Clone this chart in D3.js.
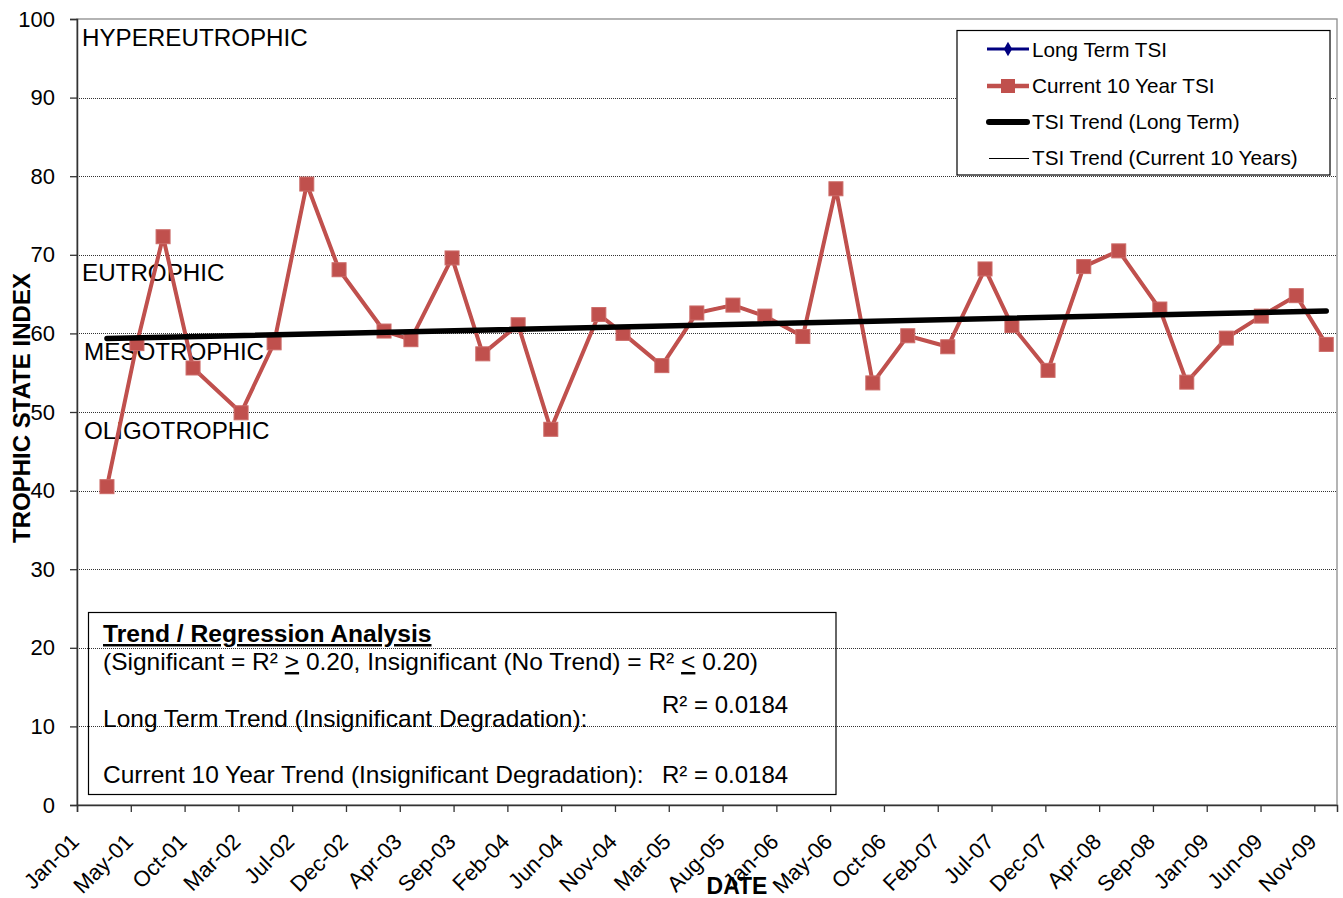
<!DOCTYPE html>
<html><head><meta charset="utf-8">
<script src="https://cdn.jsdelivr.net/npm/d3@7"></script>
<style>
body{margin:0;background:#fff;}
svg{display:block;font-family:Arial,"Liberation Sans",sans-serif;}
</style>
</head><body>
<svg id="chart" width="1343" height="898"></svg>
<script>
// ---------------- data ----------------
const sampleDates = ["2001-03-28","2001-06-14","2001-08-21","2001-11-07","2002-03-12","2002-06-06",
  "2002-08-30","2002-11-22","2003-03-19","2003-05-28","2003-09-12","2003-12-01","2004-03-02",
  "2004-05-26","2004-09-28","2004-11-30","2005-03-11","2005-06-10","2005-09-12","2005-12-04",
  "2006-03-13","2006-06-07","2006-09-11","2006-12-11","2007-03-25","2007-06-30","2007-09-08",
  "2007-12-11","2008-03-13","2008-06-12","2008-09-27","2008-12-06","2009-03-19","2009-06-18",
  "2009-09-17","2009-12-04"];
const longTermTSI = [40.5,58.7,72.3,55.6,49.9,58.8,79.0,68.1,60.3,59.2,69.6,57.4,61.1,47.8,62.4,60.0,
  55.9,62.6,63.6,62.2,59.6,78.4,53.7,59.7,58.3,68.2,61.0,55.3,68.5,70.5,63.1,53.8,59.4,62.2,64.8,58.6];
const current10YearTSI = [40.5,58.7,72.3,55.6,49.9,58.8,79.0,68.1,60.3,59.2,69.6,57.4,61.1,47.8,62.4,60.0,
  55.9,62.6,63.6,62.2,59.6,78.4,53.7,59.7,58.3,68.2,61.0,55.3,68.5,70.5,63.1,53.8,59.4,62.2,64.8,58.6];
const trendDates = ["2001-03-28","2009-12-04"];
const trendLongTerm = [59.35, 62.85];
const trendCurrent10 = [59.35, 62.85];
const yTickValues = [0,10,20,30,40,50,60,70,80,90,100];
const xTickLabels = ["Jan-01","May-01","Oct-01","Mar-02","Jul-02","Dec-02","Apr-03","Sep-03","Feb-04",
  "Jun-04","Nov-04","Mar-05","Aug-05","Jan-06","May-06","Oct-06","Feb-07","Jul-07","Dec-07","Apr-08",
  "Sep-08","Jan-09","Jun-09","Nov-09"];
const zoneNames = ["HYPEREUTROPHIC","EUTROPHIC","MESOTROPHIC","OLIGOTROPHIC"];
const zoneTops = [100,70,60,50];
const legendLabels = ["Long Term TSI","Current 10 Year TSI","TSI Trend (Long Term)","TSI Trend (Current 10 Years)"];
const r2LongTerm = "0.0184";
const r2Current = "0.0184";

// ---------------- layout ----------------
const svg = d3.select("#chart");
const L = 77, T = 19, R = 1337, B = 805;
const parse = d3.timeParse("%Y-%m-%d");
const axisStart = new Date(2001,0,9);
const majorUnitDays = 140;
const axisEnd = d3.timeDay.offset(axisStart, 3279);
const FONT = "Arial, 'Liberation Sans', sans-serif";

const x = d3.scaleTime().domain([axisStart, axisEnd]).range([L, R]);
const y = d3.scaleLinear().domain([0,100]).range([B, T]);

const tickDates = xTickLabels.map((_, i) => d3.timeDay.offset(axisStart, i*majorUnitDays));

// plot area border
svg.append("rect").attr("x",L).attr("y",T).attr("width",R-L).attr("height",B-T)
  .attr("fill","none").attr("stroke","#8c8c8c").attr("stroke-width",1.3);

// gridlines
svg.append("g").selectAll("line").data(yTickValues.filter(v=>v>0 && v<100)).join("line")
  .attr("x1",L).attr("x2",R).attr("y1",d=>Math.round(y(d))+0.5).attr("y2",d=>Math.round(y(d))+0.5)
  .attr("stroke","#333").attr("stroke-width",1).attr("stroke-dasharray","1,1");

// y axis
const yAxis = svg.append("g").attr("transform",`translate(${L},0)`)
  .call(d3.axisLeft(y).tickValues(yTickValues).tickSize(7).tickPadding(15).tickFormat(d3.format("d")));
yAxis.select(".domain").attr("stroke","#333").attr("stroke-width",1.5);
yAxis.selectAll(".tick line").attr("stroke","#333").attr("stroke-width",1.3);
yAxis.selectAll("text").attr("font-size",22).attr("fill","#000").attr("font-family",FONT);

// x axis
const xAxis = svg.append("g").attr("transform",`translate(0,${B})`)
  .call(d3.axisBottom(x).tickValues(tickDates).tickSize(7).tickFormat((d,i)=>xTickLabels[i]));
xAxis.select(".domain").attr("stroke","#333").attr("stroke-width",1.5);
xAxis.selectAll(".tick line").attr("stroke","#333").attr("stroke-width",1.3);
xAxis.selectAll("text").attr("font-size",22).attr("fill","#000").attr("font-family",FONT)
  .attr("text-anchor","end").attr("dy",0).attr("y",0)
  .attr("transform","translate(3,38) rotate(-45)");

// zone labels
svg.append("g").selectAll("text").data(zoneNames).join("text")
  .attr("x",(d,i)=> i<2 ? 82 : 84).attr("y",(d,i)=>y(zoneTops[i])+26.5)
  .attr("font-size",24.2).attr("fill","#000").text(d=>d);

// series: long term (under), current 10 year
const pts = (vals) => sampleDates.map((d,i)=>({d:parse(d), v:vals[i]}));
const line = d3.line().x(p=>x(p.d)).y(p=>y(p.v));

svg.append("path").datum(pts(longTermTSI)).attr("d",line)
  .attr("fill","none").attr("stroke","#000080").attr("stroke-width",2.5);
svg.append("g").selectAll("path").data(pts(longTermTSI)).join("path")
  .attr("d",d3.symbol(d3.symbolDiamond,50)).attr("transform",p=>`translate(${x(p.d)},${y(p.v)})`)
  .attr("fill","#000080");

svg.append("path").datum(pts(current10YearTSI)).attr("d",line)
  .attr("fill","none").attr("stroke","#C0504D").attr("stroke-width",4).attr("stroke-linejoin","round");
svg.append("g").selectAll("rect").data(pts(current10YearTSI)).join("rect")
  .attr("x",p=>x(p.d)-7).attr("y",p=>y(p.v)-7).attr("width",14).attr("height",14)
  .attr("fill","#C0504D").attr("stroke","#CC6B68").attr("stroke-width",1);

// trend lines
const tPts = (vals)=>trendDates.map((d,i)=>({d:parse(d), v:vals[i]}));
svg.append("path").datum(tPts(trendLongTerm)).attr("d",line)
  .attr("fill","none").attr("stroke","#000").attr("stroke-width",5.5).attr("stroke-linecap","round");
svg.append("path").datum(tPts(trendCurrent10)).attr("d",line)
  .attr("fill","none").attr("stroke","#000").attr("stroke-width",1);

// legend
const lg = svg.append("g");
lg.append("rect").attr("x",957).attr("y",30.5).attr("width",373).attr("height",144.5)
  .attr("fill","#fff").attr("stroke","#000").attr("stroke-width",1.2);
const rowY = [49,86,122,158];
lg.append("line").attr("x1",987).attr("x2",1029).attr("y1",rowY[0]).attr("y2",rowY[0]).attr("stroke","#000080").attr("stroke-width",3);
lg.append("path").attr("d",d3.symbol(d3.symbolDiamond,60)).attr("transform",`translate(1008,${rowY[0]})`).attr("fill","#000080");
lg.append("line").attr("x1",987).attr("x2",1029).attr("y1",rowY[1]).attr("y2",rowY[1]).attr("stroke","#C0504D").attr("stroke-width",4.5);
lg.append("rect").attr("x",1001).attr("y",rowY[1]-7).attr("width",14).attr("height",14).attr("fill","#C0504D");
lg.append("line").attr("x1",989).attr("x2",1027).attr("y1",rowY[2]).attr("y2",rowY[2]).attr("stroke","#000").attr("stroke-width",6).attr("stroke-linecap","round");
lg.append("line").attr("x1",989).attr("x2",1029).attr("y1",rowY[3]+0.5).attr("y2",rowY[3]+0.5).attr("stroke","#000").attr("stroke-width",1);
lg.selectAll("text.lt").data(legendLabels).join("text").attr("class","lt")
  .attr("x",1032).attr("y",(d,i)=>rowY[i]+(i===0?7.5:6.5)).attr("font-size",20.7).attr("fill","#000").text(d=>d);

// regression box
const rb = svg.append("g");
rb.append("rect").attr("x",88.5).attr("y",612.5).attr("width",747.5).attr("height",182)
  .attr("fill","none").attr("stroke","#000").attr("stroke-width",1.2);
rb.append("text").attr("x",103).attr("y",642).attr("font-size",24.6).attr("font-weight","bold")
  .attr("text-decoration","underline").text("Trend / Regression Analysis");
const sig = rb.append("text").attr("x",103).attr("y",670).attr("font-size",24.5);
sig.append("tspan").text("(Significant = R² ");
sig.append("tspan").attr("text-decoration","underline").text(">");
sig.append("tspan").text(" 0.20, Insignificant (No Trend) = R² ");
sig.append("tspan").attr("text-decoration","underline").text("<");
sig.append("tspan").text(" 0.20)");
rb.append("text").attr("x",103).attr("y",727).attr("font-size",24.5).text("Long Term Trend (Insignificant Degradation):");
rb.append("text").attr("x",662).attr("y",713).attr("font-size",24).text("R² = " + r2LongTerm);
rb.append("text").attr("x",103).attr("y",783).attr("font-size",24.5).text("Current 10 Year Trend (Insignificant Degradation):");
rb.append("text").attr("x",662).attr("y",783).attr("font-size",24).text("R² = " + r2Current);

// axis titles
svg.append("text").attr("transform","translate(30,408) rotate(-90)").attr("text-anchor","middle")
  .attr("font-size",24).attr("font-weight","bold").text("TROPHIC STATE INDEX");
svg.append("text").attr("x",737).attr("y",894).attr("text-anchor","middle")
  .attr("font-size",23).attr("font-weight","bold").text("DATE");
</script>
</body></html>
